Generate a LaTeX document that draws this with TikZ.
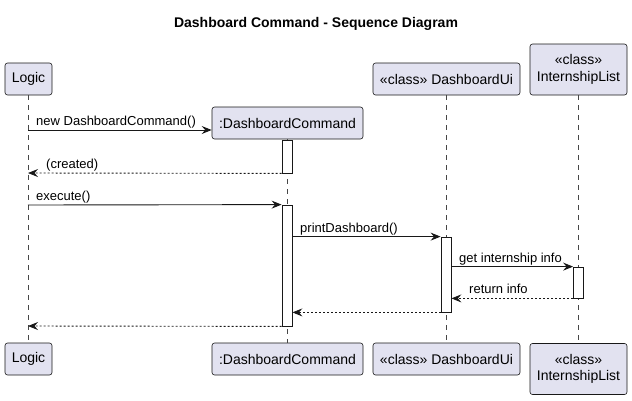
\documentclass[tikz,border=0pt]{standalone}
\usepackage{fontspec}
\setmainfont{Liberation Sans}
\usetikzlibrary{arrows.meta}
\definecolor{partfill}{HTML}{E2E2F0}
\definecolor{ink}{HTML}{181818}
\tikzset{
  part/.style={draw=ink, fill=partfill, line width=0.6pt, rounded corners=2.5pt, inner sep=0pt,
    font=\fontsize{14}{16.5}\selectfont, align=center},
  act/.style={draw=ink, fill=white, line width=0.8pt, inner sep=0pt, minimum width=10pt},
  life/.style={draw=ink!80, line width=0.6pt, dash pattern=on 5pt off 5pt},
  msg/.style={draw=ink, line width=0.9pt, -{Stealth[length=10pt, width=8pt, inset=3.5pt]}},
  ret/.style={msg, dash pattern=on 2pt off 2pt},
  lbl/.style={anchor=base west, inner sep=0pt, font=\fontsize{13}{15}\selectfont, text=black}
}
\begin{document}
\begin{tikzpicture}[x=1pt, y=-1pt]
\useasboundingbox (0,0) rectangle (632,400);
\node[font=\fontsize{14}{16}\selectfont\bfseries] (title) at (316,24) {Dashboard Command - Sequence Diagram};

% headers
\node[part, minimum width=47pt, minimum height=32pt] (logicT) at (28.5,79) {Logic};
\node[part, minimum width=151pt, minimum height=32pt] (dcT) at (287.5,123) {:DashboardCommand};
\node[part, minimum width=147pt, minimum height=32pt] (uiT) at (446.5,79) {«class» DashboardUi};
\node[part, minimum width=97pt, minimum height=51pt] (ilT) at (578.5,69.5) {«class»\\InternshipList};

% footers
\node[part, minimum width=47pt, minimum height=32pt] (logicB) at (28.5,359) {Logic};
\node[part, minimum width=151pt, minimum height=32pt] (dcB) at (287.5,359) {:DashboardCommand};
\node[part, minimum width=147pt, minimum height=32pt] (uiB) at (446.5,359) {«class» DashboardUi};
\node[part, minimum width=97pt, minimum height=51pt] (ilB) at (578.5,369) {«class»\\InternshipList};

% lifelines
\draw[life] (logicT.south) -- (logicB.north);
\draw[life] (dcT.south) -- (dcB.north);
\draw[life] (uiT.south) -- (uiB.north);
\draw[life] (ilT.south) -- (ilB.north);

% activations
\node[act, minimum height=33pt] (a1) at (287,156.5) {};
\node[act, minimum height=121pt] (a2) at (287,265.5) {};
\node[act, minimum height=75pt] (a3) at (446,274.5) {};
\node[act, minimum height=31pt] (a4) at (578.5,282.5) {};

% lifeline points
\coordinate (l1) at (28,130);
\coordinate (l2) at (28,173);
\coordinate (l3) at (28,205);
\coordinate (l8) at (28,326);

% messages
\draw[msg] (l1) -- (dcT.west |- l1);
\node[lbl] (t1) at (36,125) {new DashboardCommand()};

\draw[ret] (a1.south west) -- (l2);
\node[lbl] (t2) at (46,168) {(created)};

\draw[msg] (l3) -- (a2.north west);
\node[lbl] (t3) at (36,200) {execute()};

\draw[msg] (a2.east |- a3.north) -- (a3.north west);
\node[lbl] (t4) at (300,232) {printDashboard()};

\draw[msg] (a3.east |- a4.north) -- (a4.north west);
\node[lbl] (t5) at (459,262) {get internship info};

\draw[ret] (a4.south west) -- (a3.east |- a4.south);
\node[lbl] (t6) at (469,293) {return info};

\draw[ret] (a3.south west) -- (a2.east |- a3.south);

\draw[ret] (a2.south west) -- (l8);
\end{tikzpicture}
\end{document}
